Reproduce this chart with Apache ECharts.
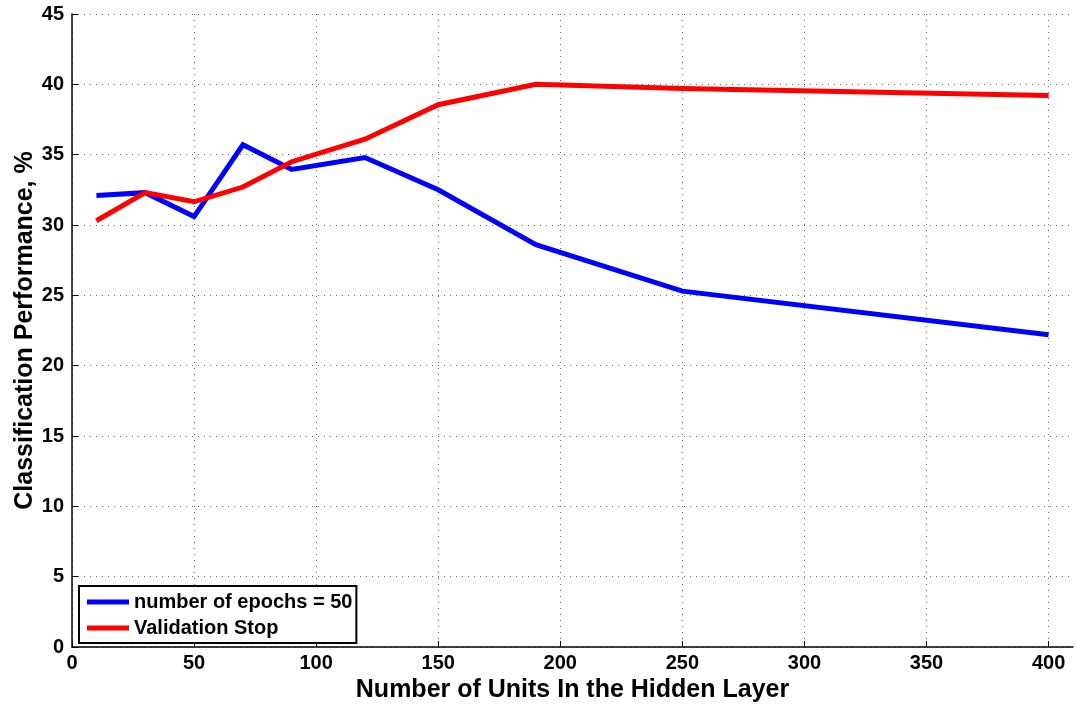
<!DOCTYPE html>
<html>
<head>
<meta charset="utf-8">
<script src="https://cdn.jsdelivr.net/npm/echarts@6/dist/echarts.min.js"></script>
<style>
  html, body { margin: 0; padding: 0; background: #fff; }
  #chart { width: 1077px; height: 708px; }
</style>
</head>
<body>
<div id="chart"></div>
<script>
// Hidden-layer sizes tried
const units = [10, 30, 50, 70, 90, 120, 150, 190, 250, 400];
// Classification performance (%) for each training regime
const epochs50 = [32.1, 32.3, 30.6, 35.7, 33.95, 34.8, 32.5, 28.6, 25.3, 22.2];
const validationStop = [30.3, 32.3, 31.65, 32.7, 34.5, 36.1, 38.55, 40.0, 39.7, 39.2];
const seriesNames = ['number of epochs = 50', 'Validation Stop'];

const FONT = '"Liberation Sans", Arial, Helvetica, sans-serif';
const gridDots = { color: '#666', width: 1, type: [1, 5] };

const chart = echarts.init(document.getElementById('chart'));

const pairs = ys => units.map((u, i) => [u, ys[i]]);

chart.setOption({
  backgroundColor: '#fff',
  animation: false,
  grid: [
    { left: 72, right: 4, top: 14, bottom: 59 },
    // vertical grid lines stop at the last labelled tick
    { left: 72, right: 28.3, top: 14, bottom: 59 }
  ],
  xAxis: [
    {
      gridIndex: 0, type: 'value', min: 0, max: 410, interval: 50,
      name: 'Number of Units In the Hidden Layer',
      nameLocation: 'middle', nameGap: 31, nameMoveOverlap: false,
      nameTextStyle: { fontFamily: FONT, fontWeight: 'bold', fontSize: 25, color: '#000' },
      axisLine: { lineStyle: { color: '#000', width: 1.5 } },
      axisTick: { inside: true, length: 6, lineStyle: { color: '#000', width: 1 } },
      axisLabel: { showMaxLabel: false, margin: 6, fontFamily: FONT, fontWeight: 'bold', fontSize: 20, color: '#000' },
      splitLine: { show: false }
    },
    {
      gridIndex: 1, type: 'value', min: 0, max: 400, interval: 50,
      axisLine: { show: false }, axisTick: { show: false }, axisLabel: { show: false },
      splitLine: { show: true, lineStyle: gridDots }
    }
  ],
  yAxis: [
    {
      gridIndex: 0, type: 'value', min: 0, max: 45, interval: 5,
      name: 'Classification Performance, %',
      nameLocation: 'middle', nameGap: 34, nameRotate: 90, nameMoveOverlap: false,
      nameTextStyle: { fontFamily: FONT, fontWeight: 'bold', fontSize: 25, color: '#000' },
      axisLine: { show: true, lineStyle: { color: '#000', width: 1.5 } },
      axisTick: { show: true, inside: true, length: 6, lineStyle: { color: '#000', width: 1 } },
      axisLabel: { margin: 8, fontFamily: FONT, fontWeight: 'bold', fontSize: 20, color: '#000' },
      splitLine: { show: true, lineStyle: gridDots }
    },
    {
      gridIndex: 1, type: 'value', min: 0, max: 45, show: false,
      splitLine: { show: false }
    }
  ],
  legend: {
    left: 79, top: 586,
    orient: 'vertical',
    backgroundColor: '#fff',
    borderColor: '#000', borderWidth: 2,
    padding: [6, 4, 5, 8],
    itemGap: 6,
    itemWidth: 42, itemHeight: 5,
    icon: 'rect',
    textStyle: { fontFamily: FONT, fontWeight: 'bold', fontSize: 20, color: '#000', lineHeight: 20 },
    data: seriesNames
  },
  series: [
    {
      name: seriesNames[0], type: 'line', xAxisIndex: 0, yAxisIndex: 0,
      data: pairs(epochs50), showSymbol: false, symbol: 'none', z: 5,
      color: '#0000ff',
      lineStyle: { color: '#0000ff', width: 5, join: 'miter' }
    },
    {
      name: seriesNames[1], type: 'line', xAxisIndex: 0, yAxisIndex: 0,
      data: pairs(validationStop), showSymbol: false, symbol: 'none', z: 6,
      color: '#ff0000',
      lineStyle: { color: '#ff0000', width: 5, join: 'miter' }
    }
  ]
});
</script>
</body>
</html>
